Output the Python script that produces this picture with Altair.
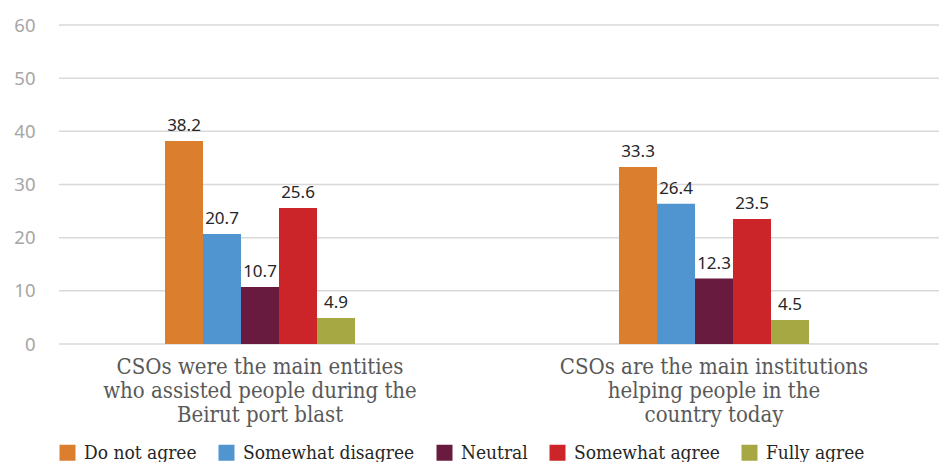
import altair as alt
import pandas as pd

categories = [
    "CSOs were the main entities|who assisted people during the|Beirut port blast",
    "CSOs are the main institutions|helping people in the|country today",
]
responses = ["Do not agree", "Somewhat disagree", "Neutral", "Somewhat agree", "Fully agree"]
colors = ["#DB7F2F", "#5094D0", "#681A3F", "#CC2529", "#A5A843"]
values_blast = [38.2, 20.7, 10.7, 25.6, 4.9]
values_today = [33.3, 26.4, 12.3, 23.5, 4.5]
y_ticks = [0, 10, 20, 30, 40, 50, 60]

rows = []
for cat, vals in zip(categories, [values_blast, values_today]):
    for r, v in zip(responses, vals):
        rows.append({"category": cat, "response": r, "value": v})
df = pd.DataFrame(rows)
grid_df = pd.DataFrame({"tick": y_ticks})

SERIF = "DejaVu Serif Condensed, DejaVu Serif"
SANS = "Noto Sans"

y_scale = alt.Scale(domain=[0, 60], nice=False)
y_axis = alt.Axis(
    title=None,
    values=y_ticks,
    domain=False,
    ticks=False,
    grid=False,
    labelFont=SANS,
    labelFontSize=18.5,
    labelColor="#a6a6a6",
    labelPadding=24,
)

x_enc = alt.X(
    "category:N",
    sort=categories,
    scale=alt.Scale(range=[106, 750], paddingInner=0.5815, paddingOuter=0),
    axis=alt.Axis(
        title=None,
        labelExpr="split(datum.label, '|')",
        labelAngle=0,
        domain=False,
        ticks=False,
        labelFont=SERIF,
        labelFontSize=22,
        labelColor="#595959",
        labelPadding=12,
        labelLineHeight=24,
        labelBaseline="top",
        labelLimit=500,
    ),
)
xoff_enc = alt.XOffset("response:N", sort=responses, scale=alt.Scale(paddingInner=0, paddingOuter=0))
y_enc = alt.Y("value:Q", scale=y_scale, axis=y_axis)

grid = alt.Chart(grid_df).mark_rule(color="#d9d9d9", strokeWidth=1.5).encode(
    y=alt.Y("tick:Q", scale=y_scale, axis=y_axis),
    x=alt.value(0),
    x2=alt.value(888),
)

base = alt.Chart(df).encode(x=x_enc, xOffset=xoff_enc, y=y_enc)

bars = base.mark_bar().encode(
    color=alt.Color(
        "response:N",
        sort=responses,
        scale=alt.Scale(domain=responses, range=colors),
        legend=alt.Legend(
            title=None,
            orient="none",
            legendX=-1,
            legendY=418,
            direction="horizontal",
            symbolType="square",
            symbolSize=256,
            symbolStrokeWidth=0,
            symbolOpacity=1,
            labelFont=SERIF,
            labelFontSize=19,
            labelColor="#262626",
            labelLimit=400,
            columnPadding=20,
            labelOffset=7,
        ),
    )
)

labels = base.mark_text(dy=-10, baseline="alphabetic", fontSize=17, color="#262626", font=SANS).encode(
    text=alt.Text("value:Q", format=".1f")
)

chart = (
    alt.layer(grid, bars, labels)
    .properties(
        width=880,
        height=319,
        autosize="none",
        padding={"left": 51, "top": 17, "right": 0, "bottom": 118},
    )
    .configure_view(stroke=None, clip=False)
)

chart.save("out.html", embed_options={"renderer": "svg", "actions": False})
